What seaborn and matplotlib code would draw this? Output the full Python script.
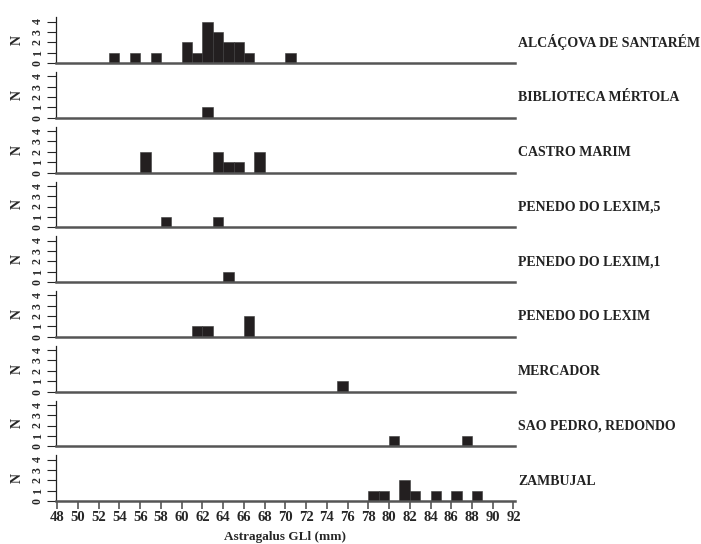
import numpy as np
import pandas as pd
import matplotlib
matplotlib.use('Agg')
import matplotlib.pyplot as plt
import seaborn as sns

# Astragalus GLl measurements (mm), read as 1 mm bin midpoints
sites = [
    'ALCÁÇOVA DE SANTARÉM',
    'BIBLIOTECA MÉRTOLA',
    'CASTRO MARIM',
    'PENEDO DO LEXIM,5',
    'PENEDO DO LEXIM,1',
    'PENEDO DO LEXIM',
    'MERCADOR',
    'SAO PEDRO, REDONDO',
    'ZAMBUJAL',
]
alcacova = [53.5, 55.5, 57.5, 60.5, 60.5, 61.5, 62.5, 62.5, 62.5, 62.5,
            63.5, 63.5, 63.5, 64.5, 64.5, 65.5, 65.5, 66.5, 70.5]
biblioteca_mertola = [62.5]
castro_marim = [56.5, 56.5, 63.5, 63.5, 64.5, 65.5, 67.5, 67.5]
penedo_lexim_5 = [58.5, 63.5]
penedo_lexim_1 = [64.5]
penedo_lexim = [61.5, 62.5, 66.5, 66.5]
mercador = [75.5]
sao_pedro = [80.5, 87.5]
zambujal = [78.5, 79.5, 81.5, 81.5, 82.5, 84.5, 86.5, 88.5]

values = [alcacova, biblioteca_mertola, castro_marim, penedo_lexim_5,
          penedo_lexim_1, penedo_lexim, mercador, sao_pedro, zambujal]

x_ticks = list(range(48, 93, 2))
y_ticks = [0, 1, 2, 3, 4]

df = pd.DataFrame([(s, v) for s, vals in zip(sites, values) for v in vals],
                  columns=['site', 'gll'])

sns.set_style('ticks')
plt.rcParams['font.family'] = ['Liberation Serif', 'DejaVu Serif']
plt.rcParams['font.weight'] = 'bold'

fig = plt.figure(figsize=(7.01, 5.44), dpi=100)
axes = fig.subplots(len(sites), 1, sharex=True)
fig.subplots_adjust(left=0.0795, right=0.7347, bottom=0.079, top=0.968, hspace=0.2)

bins = np.arange(48, 93, 1)
for i, (ax, site) in enumerate(zip(axes, sites)):
    sub = df[df['site'] == site]
    sns.histplot(data=sub, x='gll', bins=bins, ax=ax, color='#231f20',
                 alpha=1, edgecolor='#3a3a3a', linewidth=0.4)
    ax.set_xlim(47.85, 92.15)
    ax.set_ylim(0, 4.4)
    ax.set_yticks(y_ticks)
    ax.set_yticklabels([str(t) for t in y_ticks], rotation=90, va='center',
                       fontsize=8.5, fontweight='bold')
    ax.tick_params(axis='y', length=6.5, width=0.8, pad=2)
    ax.set_ylabel('N', fontsize=10, fontweight='bold', labelpad=6)
    ax.set_xlabel('')
    for sp in ['top', 'right']:
        ax.spines[sp].set_visible(False)
    ax.spines['left'].set_linewidth(0.9)
    ax.spines['left'].set_color('#222222')
    ax.spines['bottom'].set_linewidth(1.8)
    ax.spines['bottom'].set_color('#555555')
    ax.text(1.007, 0.36, site, transform=ax.transAxes, ha='left', va='baseline',
            fontsize=10, fontweight='bold', color='#222222')
    if i < len(sites) - 1:
        ax.tick_params(axis='x', bottom=False, labelbottom=False)

ax = axes[-1]
ax.set_xticks(x_ticks)
ax.set_xticklabels([str(t) for t in x_ticks], fontsize=10.5, fontweight='bold')
ax.tick_params(axis='x', length=5.5, width=1.2, color='#555555', pad=2)
ax.set_xlabel('Astragalus GLl (mm)', fontsize=9.5, fontweight='bold', labelpad=4.5)

fig.savefig('out.png', dpi=100)
